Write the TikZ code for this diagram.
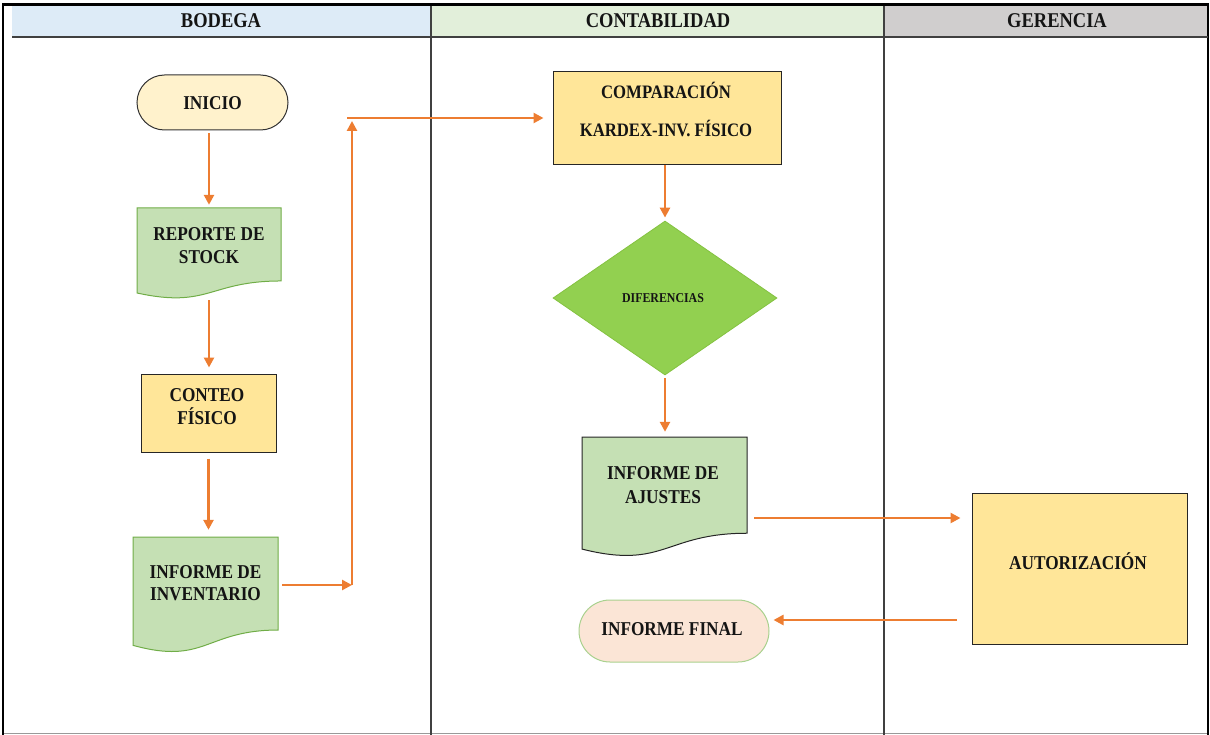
\documentclass[tikz,border=0pt]{standalone}
\usepackage{fontspec}
\setmainfont{Liberation Serif}[FakeStretch=0.88]
\usetikzlibrary{arrows.meta,shapes.geometric,shapes.misc,calc}
\definecolor{hblue}{HTML}{DDEBF7}
\definecolor{hgreen}{HTML}{E2EFDA}
\definecolor{hgray}{HTML}{D0CECE}
\definecolor{lanedark}{HTML}{404040}
\definecolor{startfill}{HTML}{FFF2CC}
\definecolor{docfill}{HTML}{C5E0B4}
\definecolor{docline}{HTML}{70AD47}
\definecolor{procfill}{HTML}{FFE699}
\definecolor{decfill}{HTML}{92D050}
\definecolor{decline}{HTML}{84C241}
\definecolor{endfill}{HTML}{FBE5D6}
\definecolor{endline}{HTML}{A9D18E}
\definecolor{arrowc}{HTML}{ED7D31}
\definecolor{inkc}{HTML}{141414}
% document shape: style, left, top, right, bottom
\newcommand\docshape[5]{%
  \path[#1] (#2,#3) -- (#4,#3) -- (#4,{#3+0.802*(#5-#3)})
    .. controls ({(#2+#4)/2},{#3+0.802*(#5-#3)}) and ({(#2+#4)/2},{#3+1.107*(#5-#3)})
    .. (#2,{#3+0.934*(#5-#3)}) -- cycle;}
\begin{document}
\begin{tikzpicture}[x=1pt,y=-1pt,
  hdr/.style={font=\bfseries\fontsize{21}{25}\selectfont, text=inkc, inner sep=0pt, text height=14pt, text depth=0pt},
  txt/.style={font=\bfseries\fontsize{19.6}{23}\selectfont, text=inkc, align=center, inner sep=0pt, text height=13pt, text depth=0pt},
  txttwo/.style={txt, text height=#1, text depth=0pt},
  small/.style={font=\bfseries\fontsize{13.5}{16}\selectfont, text=inkc, inner sep=0pt, text height=9pt, text depth=0pt},
  ghost/.style={rectangle, draw=none, inner sep=0pt},
  startend/.style={rounded rectangle, inner sep=0pt, line width=1pt},
  procbox/.style={rectangle, draw=black!85, fill=procfill, line width=1pt, inner sep=0pt},
  arr/.style={draw=arrowc, line width=2.6pt, -{Triangle[length=10pt,width=10pt]}},
  line/.style={draw=arrowc, line width=2.6pt}]
\useasboundingbox (0,0) rectangle (1210,735);
% lanes
\fill[hblue] (12,6) rectangle (431,37);
\fill[hgreen] (431,6) rectangle (884,37);
\fill[hgray] (884,6) rectangle (1207,37);
\draw[black!40, line width=1pt] (3,733.5) -- (1208,733.5);
\draw[black, line width=2.2pt] (3,735) -- (3,4.5) -- (1209,4.5);
\draw[black, line width=1.5pt] (1208,4.5) -- (1208,735);
\draw[lanedark, line width=2.2pt] (12,37) -- (1208,37);
\draw[lanedark, line width=1.4pt] (431,6) -- (431,735);
\draw[lanedark, line width=1.4pt] (884,6) -- (884,735);
\node[hdr] (h1) at (221,21) {BODEGA};
\node[hdr] (h2) at (658,21) {CONTABILIDAD};
\node[hdr] (h3) at (1057,21) {GERENCIA};
% shapes
\node[startend, draw=black!80, fill=startfill, minimum width=151pt, minimum height=55pt] (inicio) at (212.5,102.5) {};
\docshape{fill=docfill, draw=docline, line width=1pt}{137}{208}{281}{299}
\node[ghost, minimum width=144pt, minimum height=91pt] (rep) at (209,253.5) {};
\node[procbox, minimum width=135pt, minimum height=78pt] (conteo) at (208.5,413) {};
\docshape{fill=docfill, draw=docline, line width=1pt}{133}{537}{278}{653}
\node[ghost, minimum width=145pt, minimum height=116pt] (infinv) at (205.5,595) {};
\node[procbox, minimum width=228pt, minimum height=93pt] (comp) at (667,118.5) {};
\node[diamond, fill=decfill, draw=decline, line width=0.8pt, inner sep=0pt, minimum width=224pt, minimum height=154pt] (diff) at (665,298) {};
\docshape{fill=docfill, draw=black!85, line width=1pt}{582}{437}{747}{557}
\node[ghost, minimum width=165pt, minimum height=120pt] (ajustes) at (664.5,497) {};
\node[procbox, minimum width=215pt, minimum height=151pt] (aut) at (1079.5,568.5) {};
\node[startend, draw=endline, fill=endfill, minimum width=190pt, minimum height=62pt] (final) at (674,631) {};
% texts
\node[txt] (t-inicio) at (212.5,103) {INICIO};
\node[txttwo=37pt] (t-rep) at (209,245) {REPORTE DE\\STOCK};
\node[txttwo=36pt] (t-conteo) at (207,406.5) {CONTEO\\FÍSICO};
\node[txttwo=35pt, font=\bfseries\fontsize{19.6}{22}\selectfont] (t-infinv) at (205.5,582.5) {INFORME DE\\INVENTARIO};
\node[txttwo=51pt, font=\bfseries\fontsize{19}{38}\selectfont] (t-comp) at (666,111) {COMPARACIÓN\\KARDEX-INV. FÍSICO};
\node[small] (t-diff) at (663,298) {DIFERENCIAS};
\node[txttwo=37pt, font=\bfseries\fontsize{19.6}{24}\selectfont] (t-ajustes) at (663,485) {INFORME DE\\AJUSTES};
\node[txt] (t-aut) at (1078,563) {AUTORIZACIÓN};
\node[txt] (t-final) at (672,629) {INFORME FINAL};
% connectors
\coordinate (c1) at (352,585);
\coordinate (c2) at (352,121);
\coordinate (c3) at (347,118);
\coordinate (y1) at (0,518);
\coordinate (y2) at (0,620);
\draw[arr, shorten <=3pt, shorten >=3pt] (inicio.south -| rep.north) -- (rep.north);
\draw[arr, shorten <=1pt, shorten >=6pt] (rep.south) -- (rep.south |- conteo.north);
\draw[arr, shorten <=6pt, shorten >=7pt] (conteo.south) -- (conteo.south |- infinv.north);
\draw[arr, shorten <=4pt] (infinv.east |- c1) -- (c1);
\draw[arr] (c1) -- (c2);
\draw[arr, shorten >=9pt] (c3) -- (comp.west |- c3);
\draw[arr, shorten >=3pt] (comp.south -| diff.north) -- (diff.north);
\draw[arr, shorten <=3pt, shorten >=5pt] (diff.south) -- (diff.south |- ajustes.north);
\draw[arr, shorten <=7pt, shorten >=11pt] (ajustes.east |- y1) -- (aut.west |- y1);
\draw[arr, shorten <=15pt, shorten >=4pt] (aut.west |- y2) -- (final.east |- y2);
\end{tikzpicture}
\end{document}
